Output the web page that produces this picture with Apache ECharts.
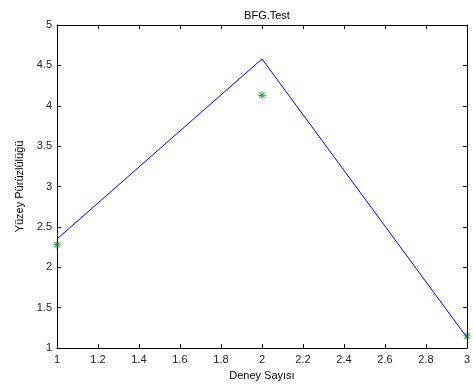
<!DOCTYPE html>
<html>
<head>
<meta charset="utf-8">
<script src="https://cdn.jsdelivr.net/npm/echarts@6/dist/echarts.min.js"></script>
<style>html,body{margin:0;padding:0;background:#fff;}#c{width:473px;height:390px;}</style>
</head>
<body>
<div id="c"></div>
<script>
const experiments = [1, 2, 3];
const lineValues = [2.35, 4.58, 1.13];
const measuredValues = [2.28, 4.13, 1.15];
const titleText = 'BFG.Test';
const xName = 'Deney Sayısı';
const yName = 'Yüzey Pürüzlülüğü';

const font = 'Liberation Sans, Arial, sans-serif';
const star = 'path://M0,4.4H10V5.6H0Z M4.4,0H5.6V10H4.4Z M1.1,1.9L1.9,1.1L8.9,8.1L8.1,8.9Z M8.1,1.1L8.9,1.9L1.9,8.9L1.1,8.1Z';

const chart = echarts.init(document.getElementById('c'), null, {renderer: 'canvas'});
const axisCommon = {
  axisLine: {show: true, onZero: false, lineStyle: {color: '#000', width: 1}},
  axisTick: {show: true, inside: true, length: 4, lineStyle: {color: '#000'}},
  splitLine: {show: false},
  axisLabel: {color: '#222', fontFamily: font, fontSize: 11}
};
chart.setOption({
  animation: false,
  backgroundColor: '#fff',
  title: {text: titleText, left: 262, top: 5, textAlign: 'center',
    textStyle: {fontFamily: font, fontSize: 11, fontWeight: 'normal', color: '#000'}},
  grid: {left: 57, right: 6, top: 25, bottom: 42, containLabel: false},
  xAxis: [
    Object.assign({}, axisCommon, {type: 'value', min: 1, max: 3, interval: 0.2, position: 'bottom',
      name: xName, nameLocation: 'middle', nameGap: 22,
      nameTextStyle: {fontFamily: font, fontSize: 11, color: '#000'},
      axisLabel: Object.assign({}, axisCommon.axisLabel, {margin: 6})}),
    Object.assign({}, axisCommon, {type: 'value', min: 1, max: 3, interval: 0.2, position: 'top',
      axisLabel: {show: false}})
  ],
  yAxis: [
    Object.assign({}, axisCommon, {type: 'value', min: 1, max: 5, interval: 0.5, position: 'left',
      name: yName, nameLocation: 'middle', nameGap: 31,
      nameTextStyle: {fontFamily: font, fontSize: 11, color: '#000'},
      axisLabel: Object.assign({}, axisCommon.axisLabel, {margin: 5})}),
    Object.assign({}, axisCommon, {type: 'value', min: 1, max: 5, interval: 0.5, position: 'right',
      axisLabel: {show: false}})
  ],
  series: [
    {type: 'line', data: experiments.map((x, i) => [x, lineValues[i]]),
      showSymbol: false, symbol: 'none', lineStyle: {color: '#0000ff', width: 1}, z: 2},
    {type: 'scatter', data: experiments.map((x, i) => [x, measuredValues[i]]),
      symbol: star, symbolSize: 8, itemStyle: {color: '#008000'}, z: 3, clip: false}
  ]
});
</script>
</body>
</html>
